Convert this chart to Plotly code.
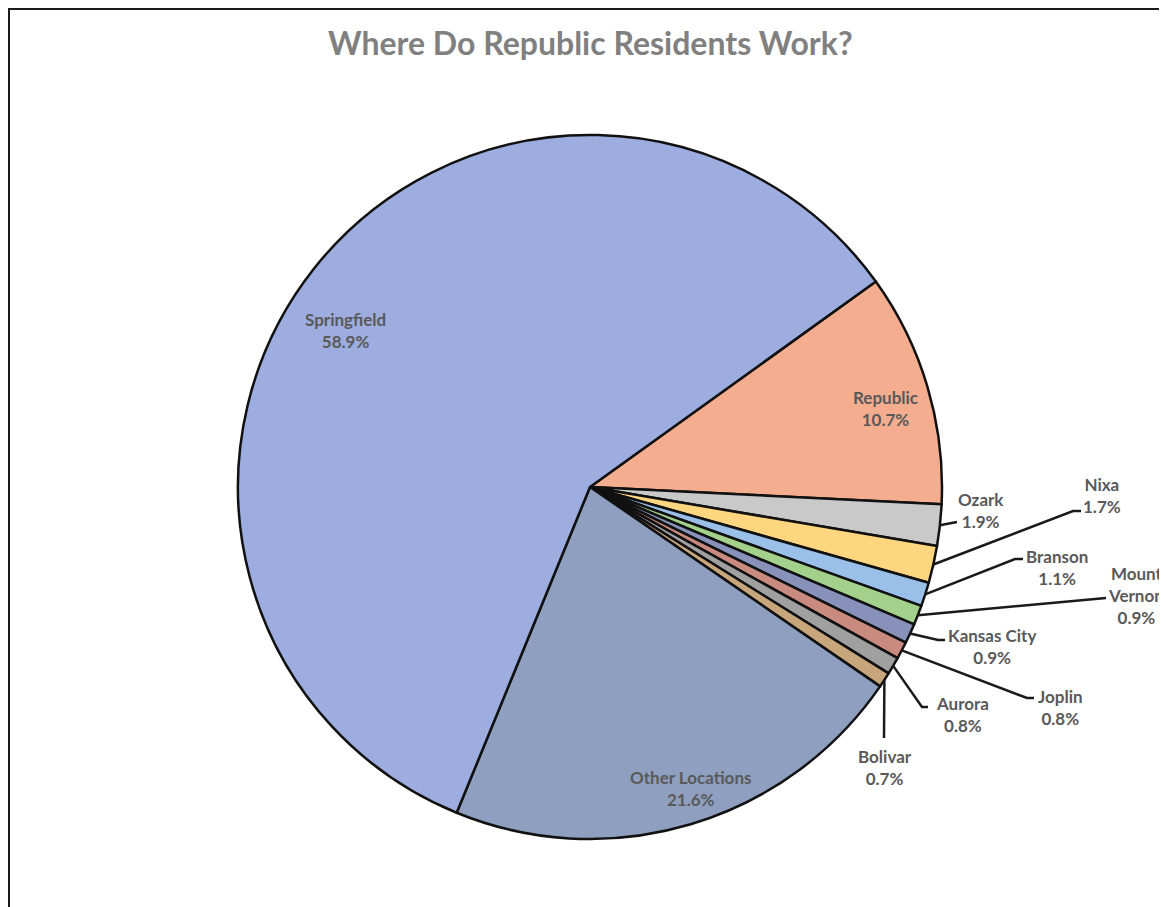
import math
import plotly.graph_objects as go

# ---- data ----
labels = ["Republic", "Ozark", "Nixa", "Branson", "Mount Vernon", "Kansas City",
          "Joplin", "Aurora", "Bolivar", "Other Locations", "Springfield"]
values = [10.7, 1.9, 1.7, 1.1, 0.9, 0.9, 0.8, 0.8, 0.7, 21.6, 58.9]
label_text = ["Republic", "Ozark", "Nixa", "Branson", "Mount<br>Vernon", "Kansas City",
              "Joplin", "Aurora", "Bolivar", "Other Locations", "Springfield"]
colors = ["#f4ad8f", "#c9c9c9", "#fed67f", "#9ac0ea", "#a3d18c", "#8791b9",
          "#c98a80", "#a0a0a0", "#c8a67c", "#8e9fc0", "#9dade0"]
title_text = "Where Do Republic Residents Work?"

# ---- layout (screen pixels of the 1167x907 window) ----
W, H = 1167, 907
OFF = 8                      # page body margin
WF, HF = W - OFF, H - OFF    # figure size
CX, CY, R = 590, 487, 352
ROTATION = 54.3
TEXT_COLOR = "#595959"
FONT = "Lato"

# label placement: text block centre, and leader-line path after the slice edge
label_layout = {
    "Springfield": dict(text=(345, 330), path=None),
    "Republic": dict(text=(885, 408), path=None),
    "Other Locations": dict(text=(690, 788), path=None),
    "Ozark": dict(text=(981, 510), path=[(957, 522)]),
    "Nixa": dict(text=(1102, 495), path=[(1073, 511), (1081, 511)]),
    "Branson": dict(text=(1057, 567), path=[(1015, 559), (1023, 559)]),
    "Mount Vernon": dict(text=(1136, 595), path=[(1106, 598)]),
    "Kansas City": dict(text=(992, 646), path=[(938, 640), (945, 640)]),
    "Joplin": dict(text=(1060, 707), path=[(1027, 698), (1034, 698)]),
    "Aurora": dict(text=(962, 714), path=[(922, 707), (928, 707)]),
    "Bolivar": dict(text=(885, 767), path=[(884, 738)]),
}

fcx, fcy = CX - OFF, CY - OFF
fig = go.Figure()
fig.add_trace(go.Pie(
    labels=labels, values=values, sort=False, direction="clockwise",
    rotation=ROTATION, textinfo="none", hoverinfo="label+percent",
    marker=dict(colors=colors, line=dict(color="#111111", width=2.5)),
    domain=dict(x=[(fcx - R) / WF, (fcx + R) / WF],
                y=[(HF - fcy - R) / HF, (HF - fcy + R) / HF]),
    showlegend=False,
))

total = sum(values)
shapes = []
annotations = []
cum = 0.0
for lab, txt, v in zip(labels, label_text, values):
    mid = ROTATION + (cum + v / 2) / total * 360.0
    cum += v
    pct = f"{v / total * 100:.1f}%"
    lay = label_layout[lab]
    if lay["path"]:
        ax = CX + R * math.sin(math.radians(mid))
        ay = CY - R * math.cos(math.radians(mid))
        pts = [(ax, ay)] + lay["path"]
        d = "M " + " L ".join(f"{x:.1f},{y:.1f}" for x, y in pts)
        shapes.append(dict(type="path", path=d, xref="x", yref="y",
                           line=dict(color="#1a1a1a", width=2.5)))
    tx, ty = lay["text"]
    annotations.append(dict(
        x=tx, y=ty, xref="x", yref="y", showarrow=False,
        text=f"{txt}<br>{pct}", align="center",
        font=dict(family=FONT, size=17, color=TEXT_COLOR, weight="bold"),
    ))

annotations.append(dict(
    x=590, y=42, xref="x", yref="y", showarrow=False, text=title_text,
    font=dict(family=FONT, size=32, color="#808080", weight="bold"),
))

# chart frame
shapes.append(dict(type="rect", x0=9, y0=9, x1=W + 20, y1=H + 20, xref="x", yref="y",
                   line=dict(color="#1a1a1a", width=2), fillcolor="rgba(0,0,0,0)",
                   layer="below"))

fig.update_layout(
    width=WF, height=HF, margin=dict(l=0, r=0, t=0, b=0),
    paper_bgcolor="white", plot_bgcolor="rgba(0,0,0,0)",
    xaxis=dict(range=[OFF, W], visible=False, fixedrange=True),
    yaxis=dict(range=[H, OFF], visible=False, fixedrange=True),
    shapes=shapes, annotations=annotations,
)

fig.write_html("out.html")
